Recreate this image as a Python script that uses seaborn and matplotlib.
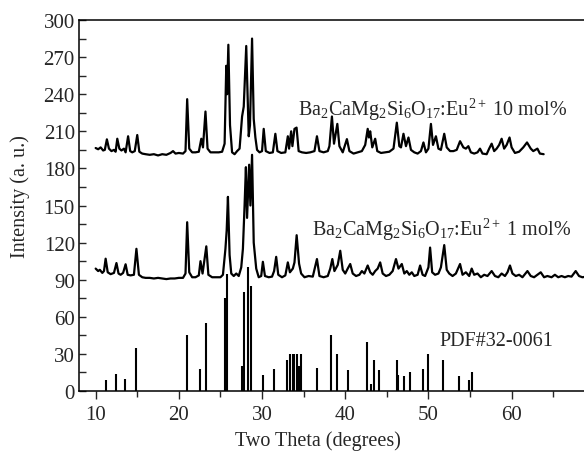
import numpy as np
import pandas as pd
import seaborn as sns
import matplotlib
matplotlib.use("Agg")
import matplotlib.pyplot as plt
from matplotlib.ticker import MultipleLocator

# PDF#32-0061 reference sticks (2theta, intensity)
pdf_pos = [11.2, 12.4, 13.5, 14.9, 21.0, 22.5, 23.25, 25.6, 25.8, 27.6, 27.85, 28.3, 28.7,
           30.15, 31.4, 33.0, 33.4, 33.7, 33.9, 34.2, 34.4, 34.65, 36.6, 38.3, 39.0, 40.3,
           42.6, 43.1, 43.5, 44.0, 46.2, 46.4, 47.1, 47.8, 49.3, 50.0, 51.8, 53.7, 54.9, 55.2]
pdf_int = [9, 14, 10, 35, 45, 18, 55, 75, 95, 20, 80, 100, 85,
           13, 18, 25, 30, 30, 30, 30, 20, 30, 19, 45, 30, 17,
           40, 6, 25, 17, 25, 13, 12, 15, 18, 30, 25, 12, 9, 15]

# Ba2CaMg2Si6O17:Eu2+ 10 mol% pattern
hi_x = [10.0, 10.3, 10.6, 10.9, 11.1, 11.35, 11.6, 11.9, 12.2, 12.4, 12.6, 12.85, 13.1, 13.4,
        13.6, 13.9, 14.15, 14.4, 14.7, 15.0, 15.25, 15.6, 16.0, 16.5, 17.0, 17.5, 18.0, 18.5,
        19.0, 19.3, 19.6, 20.0, 20.5, 20.8, 21.0, 21.25, 21.6, 22.0, 22.4, 22.7, 22.9, 23.2,
        23.45, 23.8, 24.3, 24.8, 25.2, 25.5, 25.7, 25.8, 25.95, 26.15, 26.4, 26.7, 27.0, 27.3,
        27.6, 27.8, 28.1, 28.4, 28.55, 28.8, 29.0, 29.2, 29.4, 29.7, 30.0, 30.2, 30.45, 30.9,
        31.3, 31.6, 31.85, 32.3, 32.8, 33.1, 33.25, 33.5, 33.65, 33.9, 34.15, 34.4, 34.8, 35.3,
        35.8, 36.3, 36.6, 36.9, 37.4, 37.9, 38.1, 38.4, 38.65, 39.05, 39.3, 39.7, 40.2, 40.5,
        41.0, 41.5, 42.0, 42.4, 42.7, 42.85, 43.0, 43.25, 43.6, 43.85, 44.3, 44.8, 45.3, 45.8,
        46.2, 46.5, 46.7, 47.0, 47.3, 47.6, 47.9, 48.3, 48.7, 49.1, 49.4, 49.7, 50.0, 50.3,
        50.55, 50.9, 51.2, 51.5, 51.9, 52.2, 52.6, 53.0, 53.4, 53.8, 54.2, 54.5, 54.8, 55.1,
        55.5, 55.9, 56.2, 56.5, 57.0, 57.3, 57.6, 57.9, 58.2, 58.5, 58.8, 59.1, 59.4, 59.75,
        60.0, 60.4, 60.9, 61.4, 61.85, 62.3, 62.6, 63.1, 63.4, 63.85]
hi_y = [196.5, 195.5, 197, 194.5, 195, 203.5, 196, 194, 195, 193.5, 204, 196, 194.5, 196,
        193, 206, 194, 193, 194, 207, 193.5, 192, 191.5, 191, 191.5, 190.5, 191.5, 191,
        192.5, 194, 192, 192.5, 192, 194, 236, 196, 193, 193, 193.5, 204, 197, 226,
        196, 193, 193, 193, 193.5, 200, 263, 240, 280, 215, 193, 191.5, 194, 196,
        222, 230, 279, 206, 215, 285, 220, 205, 195, 193, 194, 212, 194, 192.5,
        193, 208, 194, 192.5, 193, 206, 196, 210, 198, 212, 213, 194, 193, 192.5,
        193, 194, 206, 194, 193, 194, 198, 222, 200, 216, 198, 193, 203.7, 194,
        192, 193, 194, 199, 212, 205, 210, 197, 204, 194, 192.5, 193, 193.5, 196,
        217, 198, 197, 208, 198, 205, 195, 193, 192, 194, 201, 193, 196, 216,
        199, 206, 196, 195, 208, 197, 194, 194, 195, 202, 197, 196, 198, 193,
        192, 193, 196, 192, 191.5, 196, 200, 194, 196, 199, 204, 196, 199, 205,
        197, 192.5, 193.5, 197, 201, 196, 194, 196, 192, 191.5]

# Ba2CaMg2Si6O17:Eu2+ 1 mol% pattern
lo_x = [10.0, 10.3, 10.5, 10.8, 11.0, 11.2, 11.45, 11.8, 12.2, 12.5, 12.75, 13.0, 13.3, 13.6,
        13.85, 14.2, 14.6, 14.9, 15.2, 15.6, 16.0, 16.5, 17.0, 17.5, 18.0, 18.5, 19.0, 19.5,
        20.0, 20.5, 20.8, 21.0, 21.25, 21.6, 22.0, 22.4, 22.6, 22.85, 23.3, 23.55, 24.0, 24.5,
        25.0, 25.3, 25.6, 25.75, 25.9, 26.1, 26.3, 26.6, 26.9, 27.2, 27.5, 27.7, 27.9, 28.06,
        28.2, 28.45, 28.6, 28.8, 29.0, 29.3, 29.6, 29.9, 30.1, 30.35, 30.8, 31.2, 31.45, 31.7,
        31.95, 32.4, 32.8, 33.1, 33.35, 33.7, 33.9, 34.16, 34.45, 34.7, 35.1, 35.6, 36.1, 36.6,
        36.9, 37.4, 37.9, 38.2, 38.45, 38.7, 39.1, 39.4, 39.7, 40.0, 40.3, 40.6, 40.9, 41.3,
        41.7, 42.0, 42.3, 42.7, 43.0, 43.3, 43.6, 43.9, 44.2, 44.5, 44.9, 45.3, 45.7, 46.1,
        46.4, 46.8, 47.1, 47.4, 47.7, 48.0, 48.3, 48.7, 49.0, 49.3, 49.6, 50.0, 50.2, 50.45,
        50.8, 51.2, 51.5, 51.9, 52.2, 52.5, 52.9, 53.3, 53.8, 54.1, 54.5, 54.9, 55.2, 55.5,
        55.9, 56.3, 56.7, 57.1, 57.6, 58.0, 58.4, 58.8, 59.2, 59.5, 59.8, 60.1, 60.5, 60.9,
        61.3, 61.9, 62.3, 62.7, 63.1, 63.5, 63.9, 64.3, 64.8, 65.2, 65.6, 66.0, 66.4, 66.8,
        67.2, 67.7, 68.1, 68.5, 69.0, 69.5]
lo_y = [99, 97, 98, 95.5, 97, 107, 96, 94.5, 95.5, 103.5, 95, 94, 95.5, 102.5,
        94, 93.5, 94, 115, 94, 92, 91.5, 91.5, 91, 91.5, 91, 90.5, 91, 91,
        91.5, 91.5, 95, 136.5, 96, 92, 92, 93.5, 105, 95, 117, 94, 92, 92,
        92, 94, 115, 130, 157, 110, 95, 93, 95, 93, 100, 115, 150, 181,
        140, 183, 150, 191, 120, 99, 92, 93, 104.5, 93, 92, 92.5, 97, 108.5,
        94, 92, 93.5, 104, 96, 99, 104, 126, 103, 95, 92, 93, 92.5, 106.7,
        93, 92, 93, 99, 106.7, 97, 102, 113.4, 98, 95, 99, 102.7, 95, 93,
        94, 97, 95, 101.5, 96, 94, 97, 99, 104, 95, 93, 94, 97, 106.7,
        99, 102.7, 95, 97, 94, 96, 93, 94, 101.5, 94, 93, 100, 116, 96,
        94, 95, 100, 118, 98, 95, 93, 95, 102.7, 94, 96, 93, 99, 94,
        95, 92, 94, 93, 97, 93, 92, 95, 93, 96, 101.5, 95, 93, 94,
        92, 97, 93, 92, 94, 96, 92, 93, 92, 94, 92, 93, 92, 93,
        92.5, 97, 93, 92, 92.5, 92]

hi = pd.DataFrame({"theta": hi_x, "intensity": hi_y})
lo = pd.DataFrame({"theta": lo_x, "intensity": lo_y})

sns.set_style("ticks")
plt.rcParams["font.family"] = ["Liberation Serif", "DejaVu Serif"]
plt.rcParams["mathtext.fontset"] = "custom"
plt.rcParams["mathtext.rm"] = "Liberation Serif"
plt.rcParams["mathtext.it"] = "Liberation Serif:italic"

fig = plt.figure(figsize=(5.84, 4.52), dpi=100)
ax = fig.add_axes([0.1353, 0.1327, 0.8818, 0.8208])

sns.lineplot(data=hi, x="theta", y="intensity", color="black", lw=1.6, ax=ax, sort=False)
sns.lineplot(data=lo, x="theta", y="intensity", color="black", lw=1.6, ax=ax, sort=False)
ax.vlines(pdf_pos, 0, pdf_int, color="black", lw=1.5)

ax.set_xlim(8, 69.9)
ax.set_ylim(0, 300)
ax.xaxis.set_major_locator(MultipleLocator(10))
ax.xaxis.set_minor_locator(MultipleLocator(5))
ax.yaxis.set_major_locator(MultipleLocator(30))
ax.yaxis.set_minor_locator(MultipleLocator(15))
ax.tick_params(axis="x", which="major", direction="out", length=6, width=1, labelsize=15, pad=4)
ax.tick_params(axis="x", which="minor", direction="out", length=4, width=1)
ax.tick_params(axis="y", which="both", direction="in", length=5, width=1, labelsize=15, pad=3)
for s in ax.spines.values():
    s.set_linewidth(1.1)
    s.set_color("black")

ax.set_xlabel("Two Theta (degrees)", fontsize=14.5)
ax.set_ylabel("Intensity (a. u.)", fontsize=14.5)
ax.xaxis.set_label_coords(0.464, -0.106)
ax.yaxis.set_label_coords(-0.095, 0.526)

ax.text(34.3, 228, r"Ba$_2$CaMg$_2$Si$_6$O$_{17}$:Eu$^{2+}$ 10 mol%", fontsize=14.5, va="center")
ax.text(36.0, 131, r"Ba$_2$CaMg$_2$Si$_6$O$_{17}$:Eu$^{2+}$ 1 mol%", fontsize=14.5, va="center")
ax.text(51.3, 40.7, "PDF#32-0061", fontsize=14.5, va="center")

fig.savefig("out.png", dpi=100)
